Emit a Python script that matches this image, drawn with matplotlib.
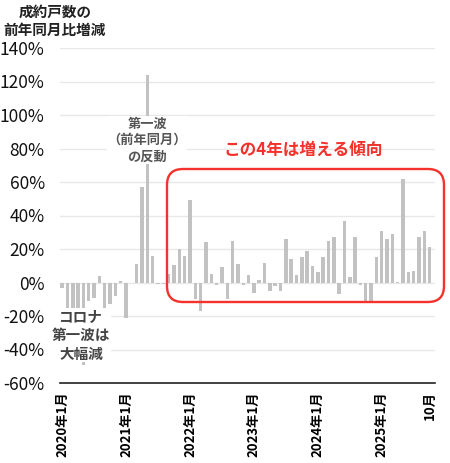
import matplotlib
matplotlib.use('Agg')
import matplotlib.pyplot as plt
from matplotlib.patches import FancyBboxPatch
from matplotlib.transforms import IdentityTransform

plt.rcParams['font.family'] = ['Noto Sans CJK JP', 'DejaVu Sans']

# 成約戸数の前年同月比増減 (%), 2020年1月〜2025年10月
values_2020 = [-3, -15, -16, -20, -49, -11, -9, 4, -27, -13, -8, 1]
values_2021 = [-21, 0, 11, 57, 124, 16, -1, -1, 5, 10.5, 20, 16]
values_2022 = [49, -10, -17, 24, 5, -1.5, 9, -10, 25, 11, -1.5, 4.5]
values_2023 = [-6, 1.5, 11.5, -5, -2, -5, 26, 14, 4.5, 15, 19, 10]
values_2024 = [6, 15, 25, 27, -7, 37, 3, 27, -1.5, -11, -11, 15.5]
values_2025 = [31, 26, 29, 0.5, 62, 6, 7, 27, 31, 21]

values = values_2020 + values_2021 + values_2022 + values_2023 + values_2024 + values_2025
months = list(range(len(values)))

tick_positions = [0, 12, 24, 36, 48, 60, 69]
tick_labels = ['2020年1月', '2021年1月', '2022年1月', '2023年1月', '2024年1月', '2025年1月', '10月']
yticks = list(range(-60, 141, 20))

title_text = '成約戸数の\n前年同月比増減'
note_drop = 'コロナ\n第一波は\n大幅減'
note_rebound = '第一波\n（前年同月）\nの反動'
note_trend = 'この4年は増える傾向'

W, H = 450, 463
fig = plt.figure(figsize=(W / 100, H / 100), dpi=100)
ax = fig.add_axes([60 / W, 1 - 383 / H, 375 / W, 335 / H])

ax.bar(months, values, width=0.65, color='#c2c2c2', zorder=2)
ax.set_ylim(-60, 140)
ax.set_xlim(-0.4, 70)

ax.set_yticks(yticks)
ax.set_yticklabels([f'{v}%' for v in yticks], fontsize=12.5, color='#111111')
ax.tick_params(axis='y', length=0, pad=11)
ax.set_xticks(tick_positions)
ax.set_xticklabels(tick_labels, rotation=90, fontsize=9.5, fontweight='bold')
ax.tick_params(axis='x', length=0, pad=6)

ax.grid(axis='y', color='#e8e8e8', lw=1, zorder=0)
ax.set_axisbelow(True)
for s in ['left', 'right', 'top']:
    ax.spines[s].set_visible(False)
ax.spines['bottom'].set_color('#222222')
ax.spines['bottom'].set_linewidth(1.2)

# title
fig.text(55 / W, 1 - 21 / H, title_text, ha='center', va='center', fontsize=10.5,
         fontweight='bold', color='#222222', linespacing=1.2)

# annotations
ax.text(16, 85, note_rebound, ha='center', va='center', fontsize=9.5, fontweight='bold',
        color='#555555', linespacing=1.25, zorder=3,
        bbox=dict(facecolor='white', edgecolor='none', pad=0.2))
ax.text(3.6, -31.5, note_drop, ha='center', va='center', fontsize=10.5, fontweight='bold',
        color='#444444', linespacing=1.2, zorder=3,
        bbox=dict(facecolor='white', edgecolor='none', pad=0.2))

# red rounded box and label
box = FancyBboxPatch((167, H - 302), 444 - 167, 302 - 169,
                     boxstyle='round,pad=0,rounding_size=16',
                     transform=IdentityTransform(), facecolor='none',
                     edgecolor='#f4312b', linewidth=1.7, zorder=5)
fig.add_artist(box)
fig.text(303 / W, 1 - 150 / H, note_trend, ha='center', va='center', fontsize=12,
         fontweight='bold', color='#f4312b')

fig.savefig('out.png', dpi=100)
